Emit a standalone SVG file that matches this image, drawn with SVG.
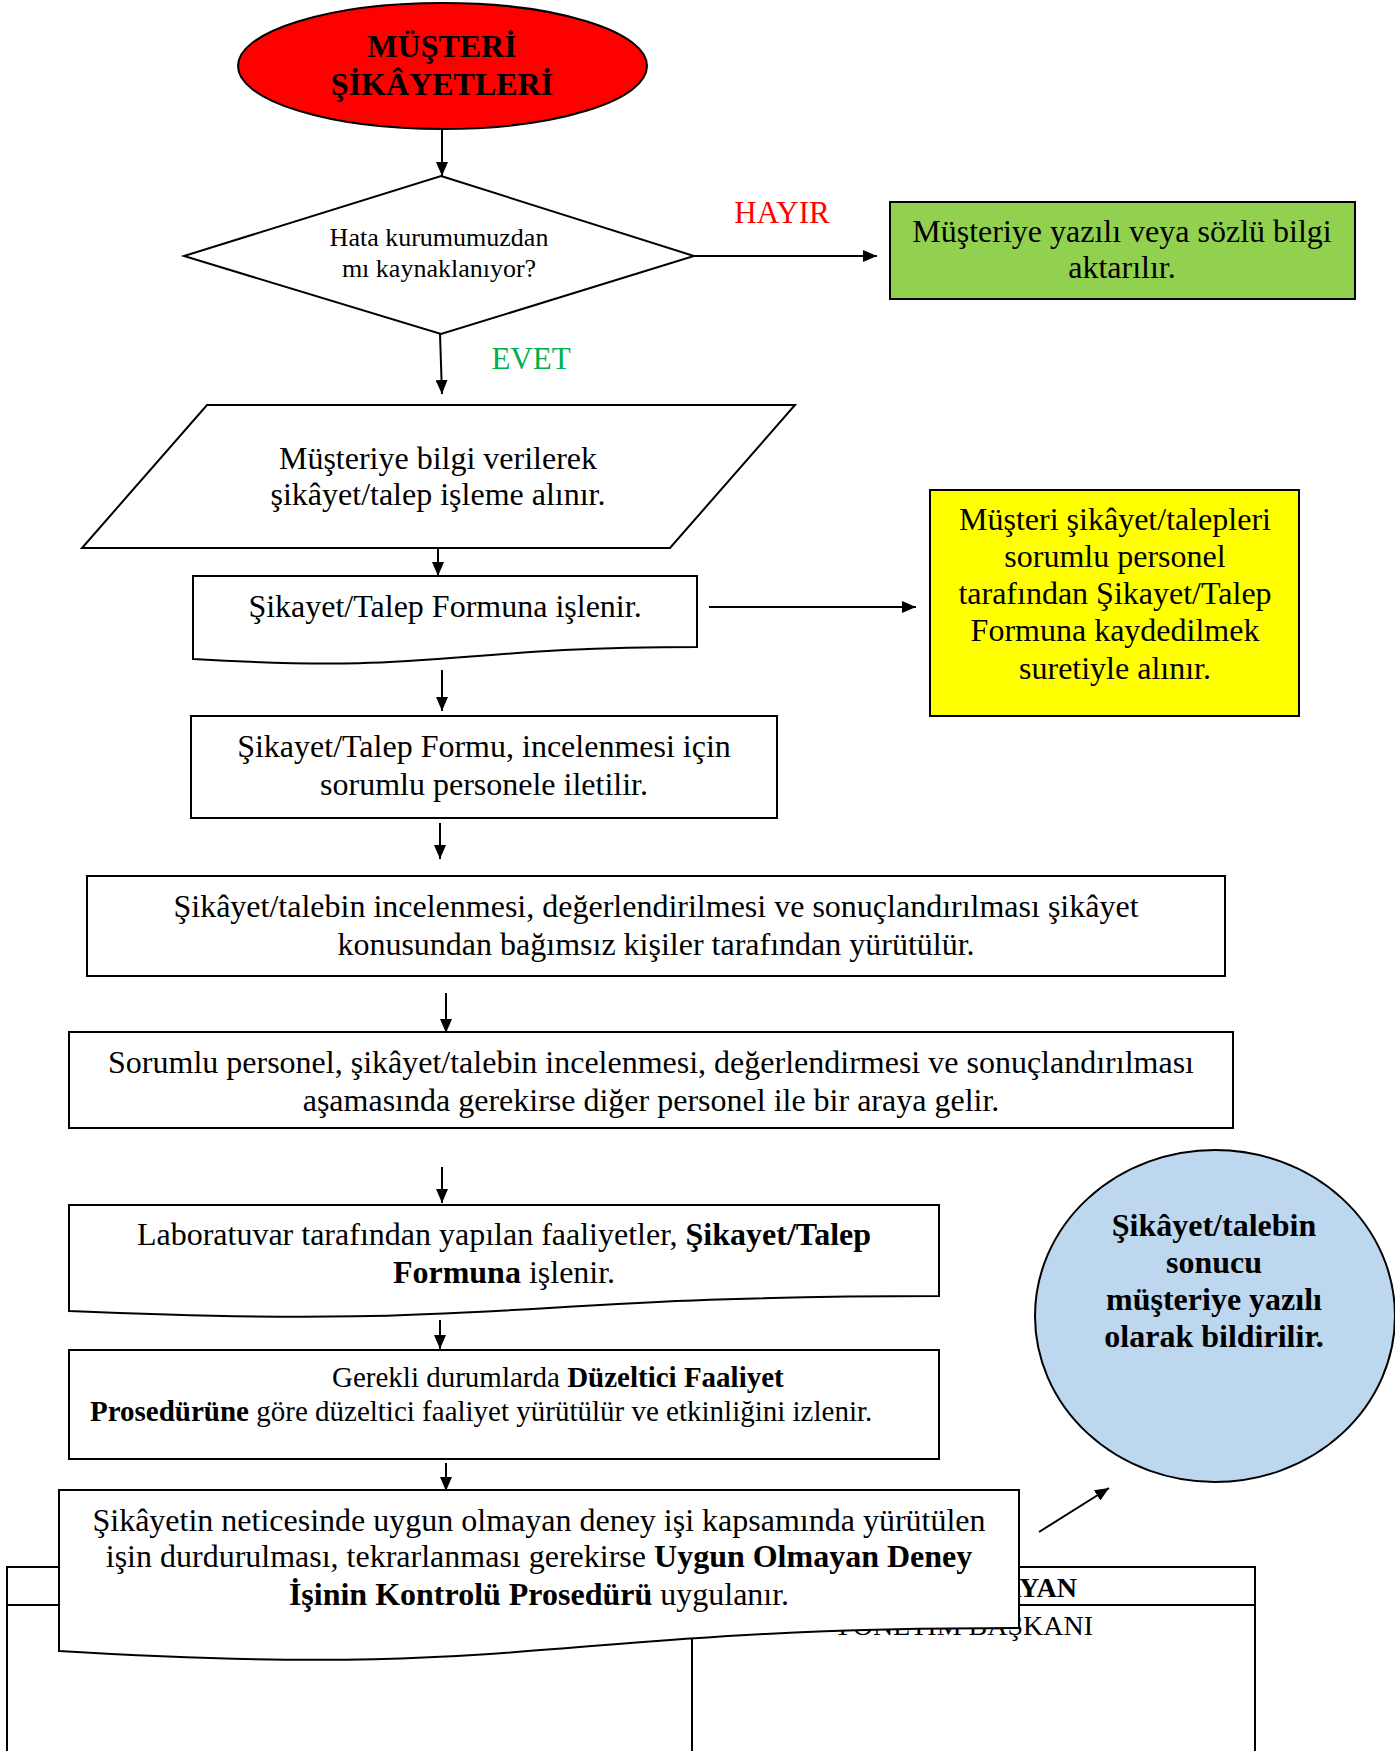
<svg xmlns="http://www.w3.org/2000/svg" width="1395" height="1751" viewBox="0 0 1395 1751">
<style>
text{font-family:"Liberation Serif","Times New Roman",serif;fill:#000;}
.t32{font-size:32px;}
.t26{font-size:26px;}
.t29{font-size:29px;}
.b{font-weight:bold;}
.c{text-anchor:middle;}
.shape{stroke:#000;stroke-width:2;}
.conn{stroke:#000;stroke-width:2;fill:none;marker-end:url(#ah);}
</style>
<defs>
<marker id="ah" markerUnits="userSpaceOnUse" markerWidth="14" markerHeight="12" refX="14" refY="6" orient="auto">
<path d="M0,0 L14,6 L0,12 Z" fill="#000"/>
</marker>
</defs>
<rect width="1395" height="1751" fill="#fff"/>

<g id="table">
<path d="M7,1751 V1567 H1255 V1751 M7,1605 H1255 M692,1605 V1751" fill="none" stroke="#000" stroke-width="2"/>
<text class="b" x="1077" y="1597" style="font-size:28px;text-anchor:end">ONAYLAYAN</text>
<text x="1093" y="1635" style="font-size:28px;text-anchor:end">YÖNETİM BAŞKANI</text>
</g>

<g id="connectors">
<line class="conn" x1="442" y1="130" x2="442" y2="176"/>
<line class="conn" x1="694" y1="256" x2="877" y2="256"/>
<line class="conn" x1="440" y1="334" x2="442" y2="394"/>
<line class="conn" x1="438" y1="548" x2="438" y2="576"/>
<line class="conn" x1="709" y1="607" x2="916" y2="607"/>
<line class="conn" x1="442" y1="670" x2="442" y2="711"/>
<line class="conn" x1="440" y1="823" x2="440" y2="859"/>
<line class="conn" x1="446" y1="993" x2="446" y2="1033"/>
<line class="conn" x1="442" y1="1167" x2="442" y2="1203"/>
<line class="conn" x1="440" y1="1320" x2="440" y2="1349"/>
<line class="conn" x1="446" y1="1463" x2="446" y2="1491"/>
<line class="conn" x1="1039" y1="1532" x2="1109" y2="1488"/>
<text x="782" y="223" class="c" style="font-size:31px;fill:#FF0000">HAYIR</text>
<text x="531" y="369" class="c" style="font-size:31px;fill:#00B050">EVET</text>
</g>

<g id="start">
<ellipse class="shape" cx="442.5" cy="66" rx="204.5" ry="63" fill="#FF0000"/>
<text class="t32 b c" x="442" y="57">MÜŞTERİ</text>
<text class="t32 b c" x="442" y="95">ŞİKÂYETLERİ</text>
</g>

<g id="decision">
<polygon class="shape" points="441,176 694,256 441,334 184,256" fill="#fff"/>
<text class="t26 c" x="439" y="246">Hata kurumumuzdan</text>
<text class="t26 c" x="439" y="277">mı kaynaklanıyor?</text>
</g>

<g id="info">
<rect class="shape" x="890" y="202" width="465" height="97" fill="#92D050"/>
<text class="t32 c" x="1122" y="242">Müşteriye yazılı veya sözlü bilgi</text>
<text class="t32 c" x="1122" y="278">aktarılır.</text>
</g>

<g id="input">
<polygon class="shape" points="207,405 795,405 670,548 82,548" fill="#fff"/>
<text class="t32 c" x="438" y="469">Müşteriye bilgi verilerek</text>
<text class="t32 c" x="438" y="505">şikâyet/talep işleme alınır.</text>
</g>

<g id="doc1">
<path class="shape" fill="#fff" d="M193,576 H697 V647 C445,647 445,674 193,659 Z"/>
<text class="t32 c" x="445" y="617">Şikayet/Talep Formuna işlenir.</text>
</g>

<g id="record">
<rect class="shape" x="930" y="490" width="369" height="226" fill="#FFFF00"/>
<text class="t32 c" x="1115" y="530">Müşteri şikâyet/talepleri</text>
<text class="t32 c" x="1115" y="567">sorumlu personel</text>
<text class="t32 c" x="1115" y="604">tarafından Şikayet/Talep</text>
<text class="t32 c" x="1115" y="641">Formuna kaydedilmek</text>
<text class="t32 c" x="1115" y="679">suretiyle alınır.</text>
</g>

<g id="box2">
<rect class="shape" x="191" y="716" width="586" height="102" fill="#fff"/>
<text class="t32 c" x="484" y="757">Şikayet/Talep Formu, incelenmesi için</text>
<text class="t32 c" x="484" y="795">sorumlu personele iletilir.</text>
</g>

<g id="box3">
<rect class="shape" x="87" y="876" width="1138" height="100" fill="#fff"/>
<text class="t32 c" x="656" y="917">Şikâyet/talebin incelenmesi, değerlendirilmesi ve sonuçlandırılması şikâyet</text>
<text class="t32 c" x="656" y="955">konusundan bağımsız kişiler tarafından yürütülür.</text>
</g>

<g id="box4">
<rect class="shape" x="69" y="1032" width="1164" height="96" fill="#fff"/>
<text class="t32 c" x="651" y="1073">Sorumlu personel, şikâyet/talebin incelenmesi, değerlendirmesi ve sonuçlandırılması</text>
<text class="t32 c" x="651" y="1111">aşamasında gerekirse diğer personel ile bir araya gelir.</text>
</g>

<g id="doc2">
<path class="shape" fill="#fff" d="M69,1205 H939 V1296 C504,1296 504,1330 69,1311 Z"/>
<text class="t32 c" x="504" y="1245">Laboratuvar tarafından yapılan faaliyetler, <tspan class="b">Şikayet/Talep</tspan></text>
<text class="t32 c" x="504" y="1283"><tspan class="b">Formuna</tspan> işlenir.</text>
</g>

<g id="box5">
<rect class="shape" x="69" y="1350" width="870" height="109" fill="#fff"/>
<text class="t29" x="332" y="1387">Gerekli durumlarda <tspan class="b">Düzeltici Faaliyet</tspan></text>
<text class="t29" x="90" y="1421"><tspan class="b">Prosedürüne</tspan> göre düzeltici faaliyet yürütülür ve etkinliğini izlenir.</text>
</g>

<g id="doc3">
<path class="shape" fill="#fff" d="M59,1490 H1019 V1628 C539,1628 539,1680 59,1651 Z"/>
<text class="t32 c" x="539" y="1531">Şikâyetin neticesinde uygun olmayan deney işi kapsamında yürütülen</text>
<text class="t32 c" x="539" y="1567">işin durdurulması, tekrarlanması gerekirse <tspan class="b">Uygun Olmayan Deney</tspan></text>
<text class="t32 c" x="539" y="1605"><tspan class="b">İşinin Kontrolü Prosedürü</tspan> uygulanır.</text>
</g>

<g id="result">
<ellipse class="shape" cx="1215" cy="1316" rx="180" ry="166" fill="#BDD7EE"/>
<text class="t32 b c" x="1214" y="1236">Şikâyet/talebin</text>
<text class="t32 b c" x="1214" y="1273">sonucu</text>
<text class="t32 b c" x="1214" y="1310">müşteriye yazılı</text>
<text class="t32 b c" x="1214" y="1347">olarak bildirilir.</text>
</g>
</svg>
